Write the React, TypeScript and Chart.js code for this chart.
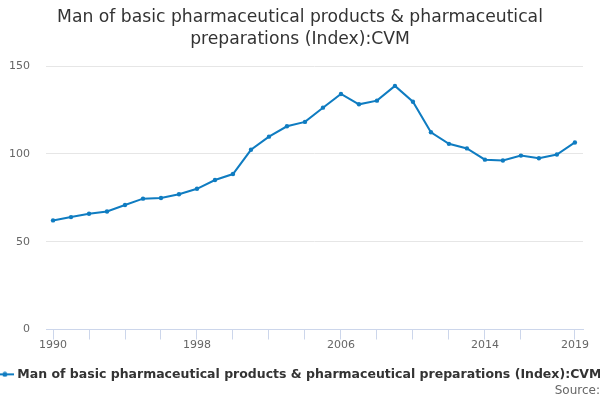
import React, { useRef, useEffect } from "react";
import Chart from "chart.js/auto";

const years = [
  1990, 1991, 1992, 1993, 1994, 1995, 1996, 1997, 1998, 1999, 2000, 2001, 2002, 2003, 2004,
  2005, 2006, 2007, 2008, 2009, 2010, 2011, 2012, 2013, 2014, 2015, 2016, 2017, 2018, 2019,
];
const indexValues = [
  62.1, 64.0, 65.9, 67.2, 70.9, 74.5, 74.9, 77.0, 80.1, 85.1, 88.5, 102.3, 109.8, 115.7, 118.2,
  126.3, 134.1, 128.2, 130.3, 138.7, 129.7, 112.3, 105.7, 103.1, 96.7, 96.2, 99.0, 97.5, 99.6, 106.5,
];
const tickYears = [1990, 1992, 1994, 1996, 1998, 2000, 2002, 2004, 2006, 2008, 2010, 2012, 2014, 2016, 2019];
const labelYears = [1990, 1998, 2006, 2014, 2019];

const seriesName = "Man of basic pharmaceutical products & pharmaceutical preparations (Index):CVM";
const titleLines = ["Man of basic pharmaceutical products & pharmaceutical", "preparations (Index):CVM"];
const lineColor = "#0f7cc1";

// little line-with-dot marker for the legend
function legendMarker() {
  const c = document.createElement("canvas");
  c.width = 18;
  c.height = 6;
  const g = c.getContext("2d")!;
  g.strokeStyle = lineColor;
  g.lineWidth = 2;
  g.beginPath();
  g.moveTo(0, 3);
  g.lineTo(18, 3);
  g.stroke();
  g.fillStyle = lineColor;
  g.beginPath();
  g.arc(9, 3, 2.5, 0, Math.PI * 2);
  g.fill();
  return c;
}

const PharmaChart = () => {
  const canvasRef = useRef<HTMLCanvasElement>(null);

  useEffect(() => {
    const ctx = canvasRef.current?.getContext("2d");
    if (!ctx) return;
    const font = "'DejaVu Sans', sans-serif";
    const chart = new Chart(ctx, {
      type: "line",
      data: {
        datasets: [
          {
            label: seriesName,
            data: years.map((y, i) => ({ x: y, y: indexValues[i] })),
            borderColor: lineColor,
            backgroundColor: lineColor,
            borderWidth: 2,
            pointRadius: 2.2,
            pointBorderWidth: 0,
            pointHoverRadius: 3,
            tension: 0,
            pointStyle: "circle",
          },
        ],
      },
      options: {
        animation: false,
        responsive: true,
        maintainAspectRatio: false,
        layout: { padding: 0 },
        plugins: {
          title: {
            display: true,
            text: titleLines,
            color: "#333333",
            font: { family: font, size: 17.2, weight: "normal", lineHeight: 1.28 },
            padding: { top: 7, bottom: 15 },
          },
          subtitle: {
            display: true,
            text: "Source:",
            position: "bottom",
            align: "end",
            color: "#666666",
            font: { family: font, size: 12, weight: "normal" },
            padding: { top: -7, bottom: 2 },
          },
          legend: {
            position: "bottom",
            labels: {
              color: "#333333",
              font: { family: font, size: 12.5, weight: "bold" },
              usePointStyle: true,
              pointStyle: legendMarker(),
              boxWidth: 16,
              padding: 8.6,
            },
          },
          tooltip: { enabled: false },
        },
        scales: {
          x: {
            type: "linear",
            min: 1989.61,
            max: 2019.45,
            afterBuildTicks: (scale) => {
              scale.ticks = tickYears.map((v) => ({ value: v }));
            },
            afterFit: (scale) => {
              scale.height = 30;
            },
            ticks: {
              autoSkip: false,
              maxRotation: 0,
              color: "#666666",
              font: { family: font, size: 11 },
              padding: -1,
              callback: (v) => (labelYears.includes(Number(v)) ? String(v) : ""),
            },
            grid: {
              drawOnChartArea: false,
              drawTicks: true,
              tickLength: 10,
              color: "#ccd6eb",
            },
            border: { color: "#ccd6eb", width: 1 },
          },
          y: {
            min: 0,
            max: 150,
            afterFit: (scale) => {
              scale.width = 46;
            },
            ticks: {
              stepSize: 50,
              color: "#666666",
              font: { family: font, size: 11 },
              padding: 16,
            },
            grid: { color: "#e6e6e6", drawTicks: false },
            border: { display: false },
          },
          // empty right-hand axis, only to keep the plot clear of the right edge
          yRight: {
            position: "right",
            afterFit: (scale) => {
              scale.width = 17;
            },
            ticks: { display: false },
            grid: { display: false },
            border: { display: false },
          },
        },
      },
    });
    return () => {
      chart.destroy();
    };
  }, []);

  return <canvas ref={canvasRef}></canvas>;
};

export default function App() {
  useEffect(() => {
    document.body.style.margin = "0";
  }, []);
  return (
    <div style={{ position: "relative", width: 600, height: 400, background: "#ffffff" }}>
      <PharmaChart />
    </div>
  );
}
